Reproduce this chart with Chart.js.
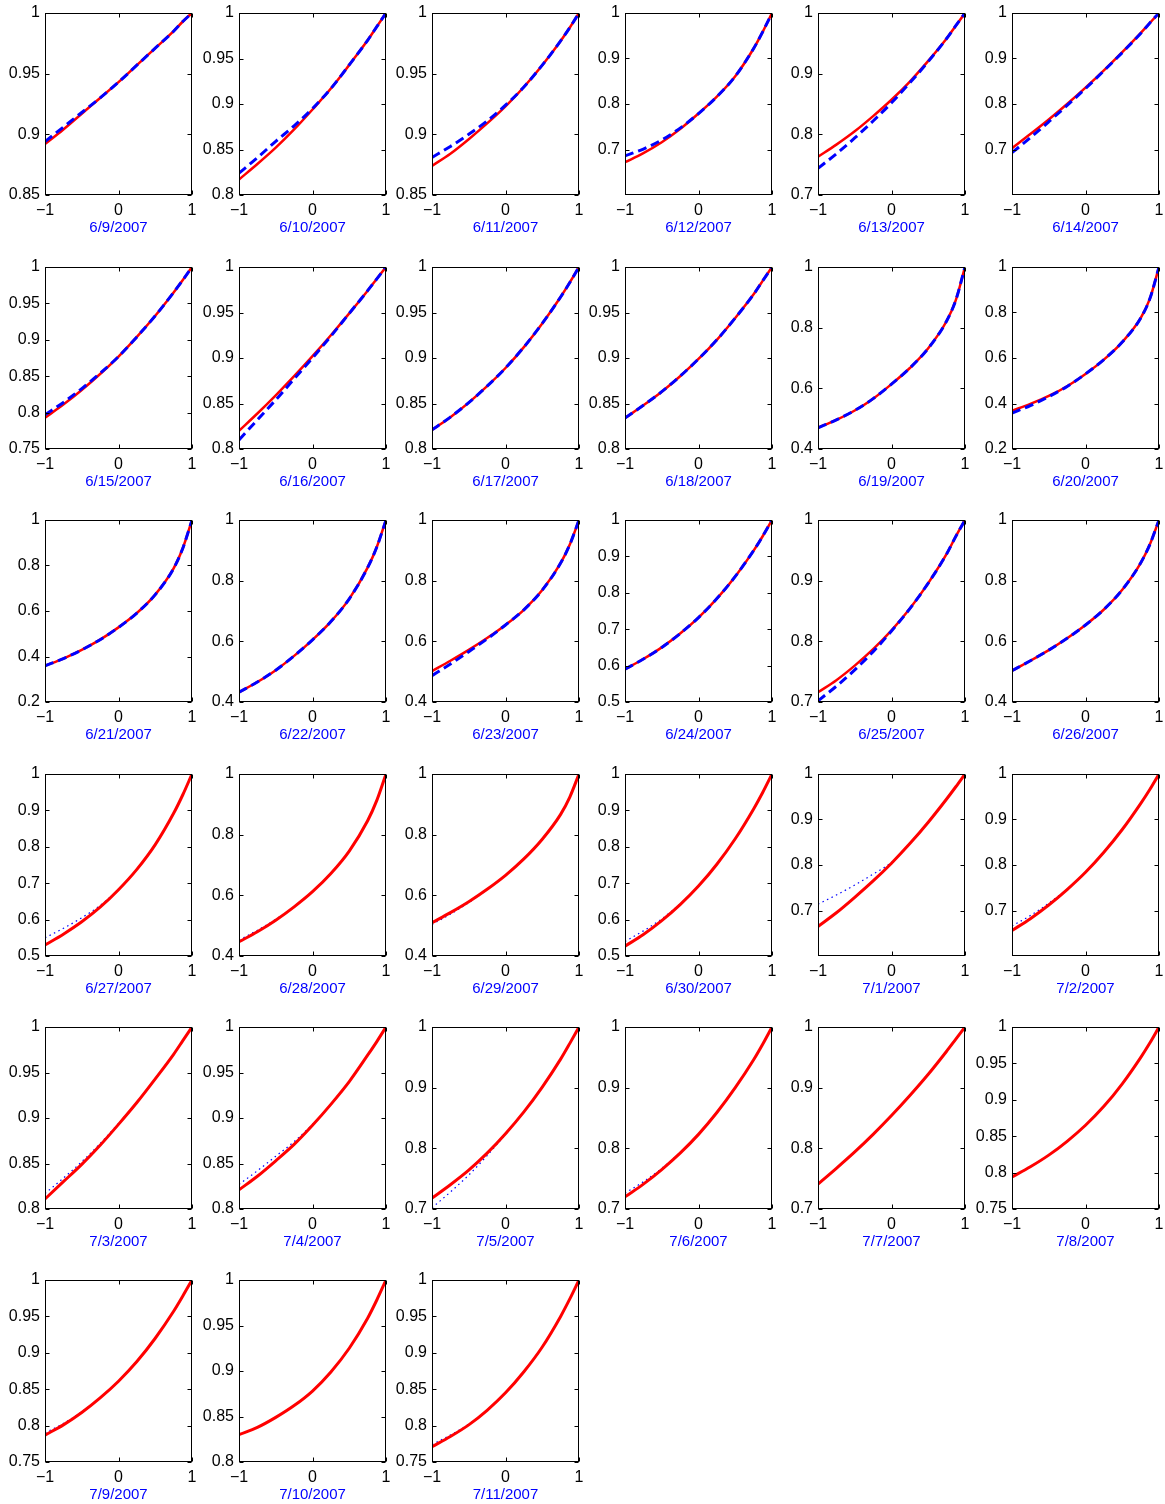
<!DOCTYPE html>
<html>
<head>
<meta charset="utf-8">
<script src="https://cdn.jsdelivr.net/npm/chart.js@4.4.0/dist/chart.umd.min.js"></script>
<style>
body{margin:0;background:#fff;}
#grade{position:relative;width:1165px;height:1504px;}
#grade canvas{position:absolute;}
</style>
</head>
<body>
<div id="grade"></div>
<script>
// one small plot per day, x from -1 to 1
var dates = ['6/9/2007','6/10/2007','6/11/2007','6/12/2007','6/13/2007','6/14/2007',
  '6/15/2007','6/16/2007','6/17/2007','6/18/2007','6/19/2007','6/20/2007',
  '6/21/2007','6/22/2007','6/23/2007','6/24/2007','6/25/2007','6/26/2007',
  '6/27/2007','6/28/2007','6/29/2007','6/30/2007','7/1/2007','7/2/2007',
  '7/3/2007','7/4/2007','7/5/2007','7/6/2007','7/7/2007','7/8/2007',
  '7/9/2007','7/10/2007','7/11/2007'];

var xs = [-1, -0.75, -0.5, -0.25, 0, 0.25, 0.5, 0.75, 0.875, 1];

var yMin = [0.85,0.8,0.85,0.6,0.7,0.6, 0.75,0.8,0.8,0.8,0.4,0.2, 0.2,0.4,0.4,0.5,0.7,0.4,
  0.5,0.4,0.4,0.5,0.6,0.6, 0.8,0.8,0.7,0.7,0.7,0.75, 0.75,0.8,0.75];
var yStep = [0.05,0.05,0.05,0.1,0.1,0.1, 0.05,0.05,0.05,0.05,0.2,0.2, 0.2,0.2,0.2,0.1,0.1,0.2,
  0.1,0.2,0.2,0.1,0.1,0.1, 0.05,0.05,0.1,0.1,0.1,0.05, 0.05,0.05,0.05];
// plots where the lowest tick has no label
var unlabeledMin = [3, 5, 22, 23];

// solid red curves
var redCurve = [
  [.892,.904,.917,.930,.943,.957,.971,.985,.993,1],
  [.817,.834,.852,.872,.894,.917,.943,.970,.985,1],
  [.874,.884,.896,.909,.923,.939,.957,.977,.988,1],
  [.672,.692,.716,.745,.779,.816,.861,.922,.959,1],
  [.763,.783,.805,.830,.857,.887,.921,.958,.979,1],
  [.703,.734,.766,.800,.836,.874,.914,.956,.978,1],
  [.793,.811,.831,.853,.877,.904,.933,.965,.982,1],
  [.820,.839,.859,.880,.902,.925,.949,.974,.987,1],
  [.821,.835,.851,.869,.889,.912,.938,.967,.983,1],
  [.834,.848,.863,.880,.899,.920,.944,.970,.985,1],
  [.470,.496,.527,.566,.614,.667,.732,.822,.891,1],
  [.368,.398,.433,.476,.530,.593,.670,.775,.860,1],
  [.359,.391,.429,.474,.528,.591,.672,.787,.876,1],
  [.432,.466,.505,.552,.605,.665,.740,.843,.911,1],
  [.502,.536,.572,.611,.654,.704,.769,.858,.919,1],
  [.590,.618,.650,.688,.732,.784,.845,.916,.956,1],
  [.716,.736,.760,.787,.818,.854,.896,.944,.973,1],
  [.503,.536,.571,.610,.654,.705,.770,.858,.919,1],
  [.530,.560,.594,.634,.682,.738,.806,.892,.943,1],
  [.447,.480,.518,.562,.612,.672,.746,.846,.913,1],
  [.510,.543,.579,.620,.666,.720,.785,.867,.924,1],
  [.527,.559,.597,.641,.692,.752,.822,.904,.950,1],
  [.665,.695,.729,.765,.804,.847,.894,.945,.972,1],
  [.656,.682,.712,.746,.784,.828,.878,.935,.966,1],
  [.811,.830,.849,.870,.893,.917,.943,.970,.985,1],
  [.821,.836,.853,.871,.892,.915,.940,.969,.984,1],
  [.718,.740,.764,.792,.824,.860,.901,.947,.973,1],
  [.720,.741,.765,.792,.823,.859,.900,.946,.972,1],
  [.741,.767,.794,.823,.854,.887,.922,.960,.980,1],
  [.794,.808,.824,.843,.865,.891,.922,.958,.978,1],
  [.787,.801,.818,.838,.861,.888,.920,.957,.978,1],
  [.830,.838,.849,.862,.878,.899,.925,.958,.978,1],
  [.771,.785,.801,.821,.845,.874,.908,.950,.974,1]
];

// blue curves (dashed on the first 18 days, dotted after)
var blueCurve = [
  [.894,.906,.918,.930,.943,.957,.971,.985,.993,1],
  [.824,.841,.859,.876,.895,.917,.943,.970,.985,1],
  [.881,.890,.900,.911,.924,.939,.957,.977,.988,1],
  [.686,.701,.721,.747,.779,.816,.861,.922,.959,1],
  [.744,.768,.794,.822,.852,.885,.920,.958,.979,1],
  [.693,.726,.761,.797,.834,.873,.913,.955,.978,1],
  [.797,.814,.833,.854,.877,.904,.933,.965,.982,1],
  [.810,.832,.854,.877,.900,.924,.949,.974,.987,1],
  [.821,.835,.851,.869,.889,.912,.938,.967,.983,1],
  [.834,.848,.863,.880,.899,.920,.944,.970,.985,1],
  [.470,.496,.527,.566,.614,.667,.732,.822,.891,1],
  [.358,.391,.430,.475,.530,.593,.670,.775,.860,1],
  [.359,.391,.429,.474,.528,.591,.672,.787,.876,1],
  [.432,.466,.505,.552,.605,.665,.740,.843,.911,1],
  [.487,.525,.566,.608,.654,.704,.769,.858,.919,1],
  [.590,.618,.650,.688,.732,.784,.845,.916,.956,1],
  [.702,.726,.753,.783,.817,.854,.896,.944,.973,1],
  [.503,.536,.571,.610,.654,.705,.770,.858,.919,1],
  [.550,.576,.605,.639,.683,.738,.806,.892,.943,1],
  [.452,.485,.521,.563,.612,.672,.746,.846,.913,1],
  [.504,.538,.576,.619,.666,.720,.785,.867,.924,1],
  [.540,.569,.602,.643,.693,.752,.822,.904,.950,1],
  [.714,.734,.756,.780,.806,.847,.894,.945,.972,1],
  [.666,.689,.716,.747,.784,.828,.878,.935,.966,1],
  [.817,.834,.852,.872,.894,.917,.943,.970,.985,1],
  [.827,.842,.858,.874,.893,.915,.940,.969,.984,1],
  [.702,.728,.756,.788,.823,.860,.901,.947,.973,1],
  [.726,.745,.767,.793,.823,.859,.900,.946,.972,1],
  [.741,.767,.794,.823,.854,.887,.922,.960,.980,1],
  [.794,.808,.824,.843,.865,.891,.922,.958,.978,1],
  [.790,.803,.819,.838,.861,.888,.920,.957,.978,1],
  [.830,.838,.849,.862,.878,.899,.925,.958,.978,1],
  [.774,.787,.802,.821,.845,.874,.908,.950,.974,1]
];

var colLeft = [45, 239, 432, 625, 818, 1012];
var rowTop = [13, 267, 520, 774, 1027, 1280];
var fonte = '"Liberation Sans", Arial, Helvetica, sans-serif';

// box round the plot with inward ticks on all four sides
var moldura = {
  id: 'moldura',
  afterDatasetsDraw: function(chart){
    var ctx = chart.ctx, a = chart.chartArea;
    var l = Math.round(a.left) + 0.5, r = Math.round(a.right) - 0.5;
    var t = Math.round(a.top) + 0.5, b = Math.round(a.bottom) - 0.5;
    var tl = 4;
    ctx.save();
    ctx.strokeStyle = '#000';
    ctx.lineWidth = 1;
    ctx.strokeRect(l, t, r - l, b - t);
    ctx.beginPath();
    chart.scales.y.ticks.forEach(function(tk){
      var py = Math.round(chart.scales.y.getPixelForValue(tk.value)) + 0.5;
      ctx.moveTo(l, py); ctx.lineTo(l + tl, py);
      ctx.moveTo(r, py); ctx.lineTo(r - tl, py);
    });
    chart.scales.x.ticks.forEach(function(tk){
      var px = Math.round(chart.scales.x.getPixelForValue(tk.value)) + 0.5;
      ctx.moveTo(px, b); ctx.lineTo(px, b - tl);
      ctx.moveTo(px, t); ctx.lineTo(px, t + tl);
    });
    ctx.stroke();
    ctx.restore();
  }
};

function pontos(vals){
  var out = [];
  for (var k = 0; k < xs.length; k++) out.push({x: xs[k], y: vals[k]});
  return out;
}

function yTicks(i){
  var n = Math.round((1 - yMin[i]) / yStep[i]);
  var lista = [];
  for (var k = 0; k <= n; k++){
    if (k == 0 && unlabeledMin.indexOf(i) >= 0) continue;
    lista.push({value: Math.round((yMin[i] + k * yStep[i]) * 1000) / 1000});
  }
  return lista;
}

function desenha(i){
  var c = i % 6, r = Math.floor(i / 6);
  var dotted = i >= 18;
  var cv = document.createElement('canvas');
  cv.width = 200; cv.height = 234;
  cv.style.left = (colLeft[c] - 45) + 'px';
  cv.style.top = (rowTop[r] - 10) + 'px';
  cv.style.width = '200px'; cv.style.height = '234px';
  document.getElementById('grade').appendChild(cv);

  new Chart(cv.getContext('2d'), {
    type: 'line',
    data: {
      datasets: [{
        data: pontos(redCurve[i]),
        borderColor: '#ff0000',
        borderWidth: dotted ? 3 : 2.5,
        pointRadius: 0,
        cubicInterpolationMode: 'monotone',
        order: dotted ? 0 : 1
      }, {
        data: pontos(blueCurve[i]),
        borderColor: '#0000ff',
        borderWidth: dotted ? 1.2 : 3,
        borderDash: dotted ? [1.5, 3.5] : [9, 5],
        pointRadius: 0,
        cubicInterpolationMode: 'monotone',
        order: dotted ? 1 : 0
      }]
    },
    options: {
      responsive: false,
      animation: false,
      devicePixelRatio: 1,
      layout: {padding: {top: 10, right: 8, left: 0, bottom: 0}},
      plugins: {legend: {display: false}, tooltip: {enabled: false}},
      scales: {
        x: {
          type: 'linear', min: -1, max: 1,
          grid: {display: false, drawTicks: false},
          border: {display: false},
          ticks: {
            stepSize: 1, padding: 6, color: '#000', maxRotation: 0,
            font: {family: fonte, size: 16},
            callback: function(v){ return v < 0 ? '\u2212' + (-v) : String(v); }
          },
          title: {display: true, text: dates[i], color: '#0000ff', padding: 0,
            font: {family: fonte, size: 15}},
          afterFit: function(s){ s.height = 42; s.paddingLeft = 0; s.paddingRight = 0; }
        },
        y: {
          min: yMin[i], max: 1,
          grid: {display: false, drawTicks: false},
          border: {display: false},
          ticks: {
            padding: 5, color: '#000',
            font: {family: fonte, size: 16},
            callback: function(v){ return String(Math.round(v * 100) / 100); }
          },
          afterBuildTicks: function(s){ s.ticks = yTicks(i); },
          afterFit: function(s){ s.width = 45; s.paddingTop = 0; s.paddingBottom = 0; }
        }
      }
    },
    plugins: [moldura]
  });
}

for (var i = 0; i < dates.length; i++){
  desenha(i);
}
</script>
</body>
</html>
